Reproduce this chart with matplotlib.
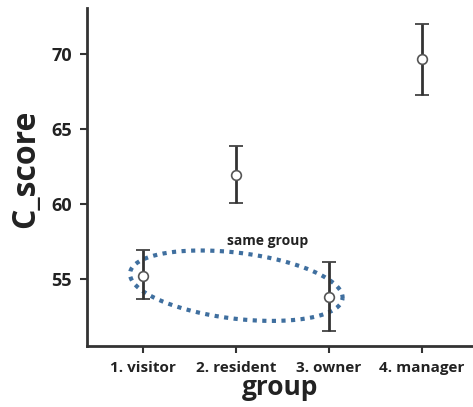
import numpy as np
import matplotlib
matplotlib.use("Agg")
import matplotlib.pyplot as plt

groups = ["1. visitor", "2. resident", "3. owner", "4. manager"]
means = [55.2, 61.95, 53.8, 69.65]
lower = [53.65, 60.1, 51.5, 67.3]
upper = [56.9, 63.85, 56.1, 72.0]

plt.rcParams['font.family'] = ['Open Sans', 'DejaVu Sans']
fig = plt.figure(figsize=(4.73, 4.07), dpi=100)
ax = fig.add_axes([0.184, 0.150, 0.816, 0.830])

x = np.arange(1, len(groups) + 1)
m = np.array(means)
yerr = np.vstack([m - np.array(lower), np.array(upper) - m])
ax.errorbar(x, m, yerr=yerr, fmt='o', color='#333333', ecolor='#333333',
            elinewidth=2, capsize=5, capthick=2, markersize=7,
            markerfacecolor='white', markeredgecolor='#555555', markeredgewidth=1.2, zorder=3)

ax.set_xlim(0.4, 4.55)
ax.set_ylim(50.53, 73.07)
ax.set_xticks(x)
ax.set_xticklabels(groups)
ax.set_yticks([55, 60, 65, 70])

for s in ['top', 'right']:
    ax.spines[s].set_visible(False)
for s in ['left', 'bottom']:
    ax.spines[s].set_linewidth(2)
    ax.spines[s].set_color('#333333')
ax.tick_params(axis='both', direction='out', length=5, width=1.5, color='#333333')
for lbl in ax.get_xticklabels():
    lbl.set_fontsize(11); lbl.set_fontweight('bold'); lbl.set_color('#222222')
for lbl in ax.get_yticklabels():
    lbl.set_fontsize(13); lbl.set_fontweight('bold'); lbl.set_color('#222222')
ax.tick_params(axis='x', pad=6)
ax.tick_params(axis='y', pad=6)

ax.set_xlabel('group', fontsize=19, fontweight='bold', color='#222222', labelpad=-1)
ax.set_ylabel('C_score', fontsize=23, fontweight='bold', color='#222222')
ax.yaxis.set_label_coords(-0.117, 0.525)

# dotted ellipse annotation (computed in pixel-like units, then mapped to data)
px_x, px_y = 93.0, 15.0   # pixels per data unit
cx, cy = 2.005, 54.55
a, b, theta = 107.0, 33.0, np.deg2rad(-7)
t = np.linspace(0, 2 * np.pi, 300)
ex = a * np.cos(t) * np.cos(theta) - b * np.sin(t) * np.sin(theta)
ey = a * np.cos(t) * np.sin(theta) + b * np.sin(t) * np.cos(theta)
ax.plot(cx + ex / px_x, cy + ey / px_y, linestyle=(0, (1, 1.3)), color='#3f6f9f',
        linewidth=3, zorder=2)
ax.text(2.34, 57.5, 'same group', fontsize=10, fontweight='bold', color='#222222',
        ha='center', va='center')

fig.savefig('out.png', dpi=100)
